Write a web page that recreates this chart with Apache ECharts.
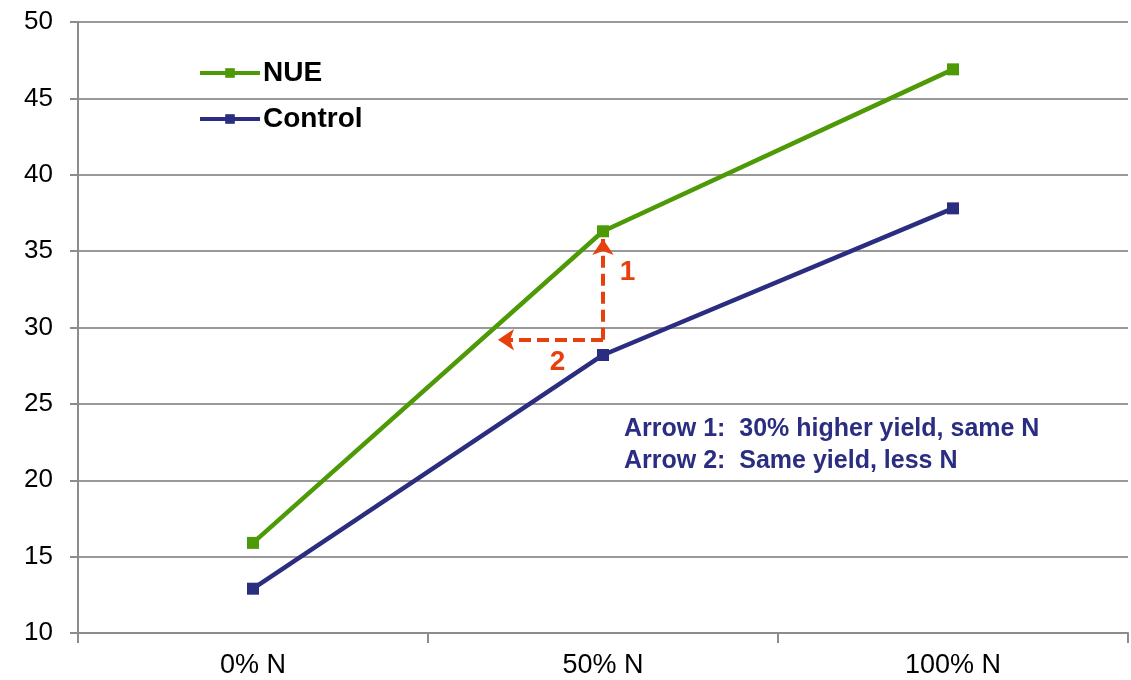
<!DOCTYPE html>
<html><head><meta charset="utf-8">
<script src="https://cdn.jsdelivr.net/npm/echarts@6/dist/echarts.min.js"></script>
<style>html,body{margin:0;padding:0;background:#fff}#c{width:1131px;height:680px}</style>
</head><body><div id="c"></div>
<script>
var categories = ['0% N', '50% N', '100% N'];
var nueValues = [15.9, 36.3, 46.9];
var controlValues = [12.9, 28.2, 37.8];
var arrow1 = [[1, 29.2], [1, 35.8]];
var arrow2 = [[1, 29.2], [0.7, 29.2]];
var arrowLabels = [[1.07, 33.6, '1'], [0.87, 27.7, '2']];
var noteLines = ['Arrow 1:  30% higher yield, same N', 'Arrow 2:  Same yield, less N'];

var green = '#4E9A06', blue = '#2B2E80', red = '#E8400C';
var chart = echarts.init(document.getElementById('c'));
chart.setOption({
  animation: false,
  grid: {left: 78, right: 3, top: 22, bottom: 47},
  legend: {
    orient: 'vertical', left: 193, top: 54, itemGap: 18, itemWidth: 60, itemHeight: 12,
    textStyle: {fontFamily: 'Liberation Sans', fontSize: 28, fontWeight: 'bold', color: '#000', padding: [0,0,0,-2]},
    data: [
      {name: 'NUE', lineStyle: {width: 4}},
      {name: 'Control', lineStyle: {width: 4}}
    ]
  },
  xAxis: [{
    type: 'category', data: categories, boundaryGap: true,
    axisLine: {lineStyle: {color: '#8c8c8c', width: 2}},
    axisTick: {show: true, length: 10, lineStyle: {color: '#8c8c8c', width: 2}},
    axisLabel: {fontFamily: 'Liberation Sans', fontSize: 27, color: '#000', margin: 19}
  }, {
    type: 'value', min: -0.5, max: 2.5, show: false
  }],
  yAxis: {
    type: 'value', min: 10, max: 50, interval: 5,
    axisLine: {show: true, onZero: false, lineStyle: {color: '#8c8c8c', width: 2}},
    axisTick: {show: true, length: 8, lineStyle: {color: '#8c8c8c', width: 2}},
    splitLine: {lineStyle: {color: '#999', width: 2}},
    axisLabel: {fontFamily: 'Liberation Sans', fontSize: 26, color: '#000', margin: 25}
  },
  series: [{
    name: 'NUE', type: 'line', data: nueValues, symbol: 'rect', symbolSize: 12,
    lineStyle: {color: green, width: 4.5}, itemStyle: {color: green}, z: 3
  }, {
    name: 'Control', type: 'line', data: controlValues, symbol: 'rect', symbolSize: 12,
    lineStyle: {color: blue, width: 4.5}, itemStyle: {color: blue}, z: 3
  }, {
    type: 'lines', coordinateSystem: 'cartesian2d', xAxisIndex: 1, yAxisIndex: 0, polyline: false,
    symbol: ['none', 'arrow'], symbolSize: 16,
    lineStyle: {color: red, width: 4, type: [12, 6], opacity: 1},
    data: [{coords: arrow1}, {coords: arrow2}], z: 4
  }, {
    type: 'scatter', xAxisIndex: 1, symbolSize: 0, silent: true,
    itemStyle: {opacity: 1, color: red},
    data: arrowLabels.map(function(d){return {value: [d[0], d[1]], label: {formatter: d[2]}};}),
    label: {show: true, position: 'inside', fontFamily: 'Liberation Sans', fontSize: 28, fontWeight: 'bold', color: red, opacity: 1}
  }],
  graphic: [{
    type: 'text', left: 624, top: 413,
    style: {text: noteLines.join('\n'), fontFamily: 'Liberation Sans', fontSize: 25, fontWeight: 'bold', fill: blue, lineHeight: 32}
  }]
});
</script></body></html>
